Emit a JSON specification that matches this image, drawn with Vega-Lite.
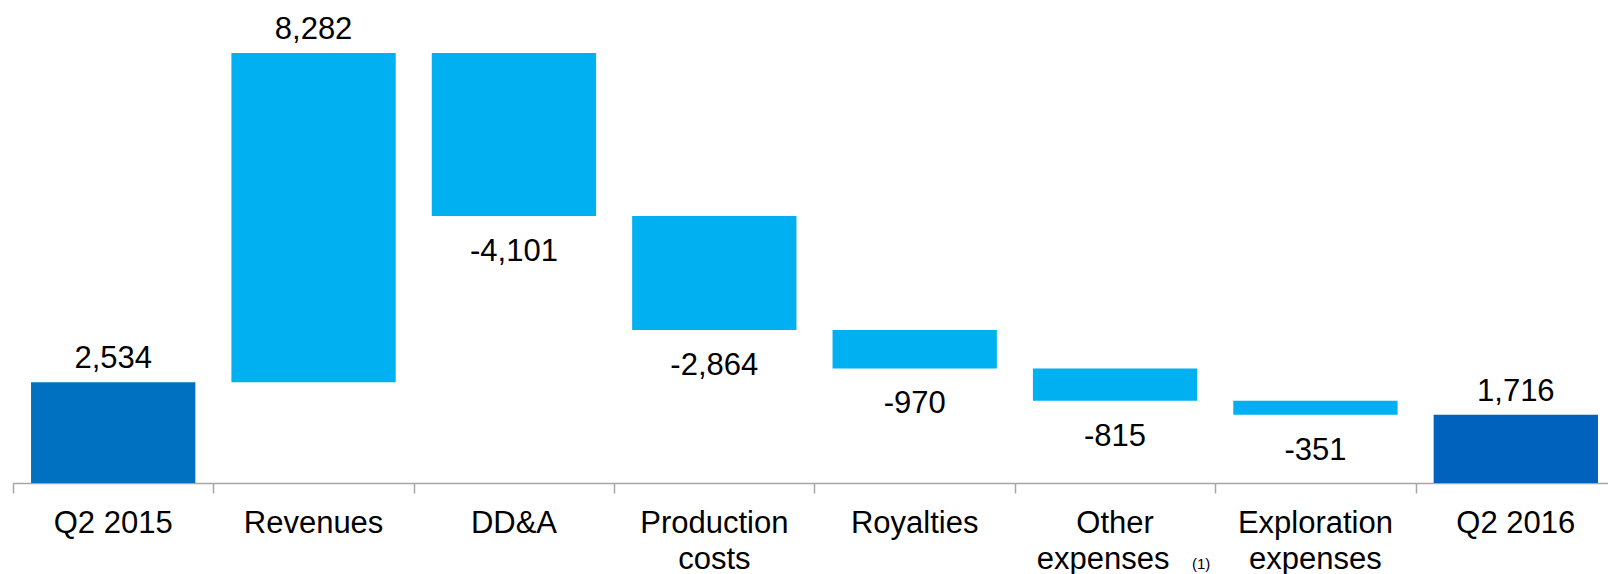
{
  "$schema": "https://vega.github.io/schema/vega-lite/v6.json",
  "autosize": {"type": "none"},
  "width": 1595,
  "height": 483,
  "padding": {"left": 13, "top": 0, "right": 0, "bottom": 91},
  "background": "white",
  "config": {"view": {"stroke": null}, "text": {"font": "Liberation Sans", "fontSize": 31, "color": "#000000"}},
  "data": {"values": [
    {"cat": "Q2 2015", "l1": "Q2 2015", "l2": "", "note": "", "start": 0, "end": 2534, "text": "2,534", "kind": "total"},
    {"cat": "Revenues", "l1": "Revenues", "l2": "", "note": "", "start": 2534, "end": 10816, "text": "8,282", "kind": "up"},
    {"cat": "DD&A", "l1": "DD&A", "l2": "", "note": "", "start": 10816, "end": 6715, "text": "-4,101", "kind": "down"},
    {"cat": "Production costs", "l1": "Production", "l2": "costs", "note": "", "start": 6715, "end": 3851, "text": "-2,864", "kind": "down"},
    {"cat": "Royalties", "l1": "Royalties", "l2": "", "note": "", "start": 3851, "end": 2881, "text": "-970", "kind": "down"},
    {"cat": "Other expenses", "l1": "Other", "l2": "expenses", "note": "(1)", "start": 2881, "end": 2066, "text": "-815", "kind": "down"},
    {"cat": "Exploration expenses", "l1": "Exploration", "l2": "expenses", "note": "", "start": 2066, "end": 1716, "text": "-351", "kind": "down"},
    {"cat": "Q2 2016", "l1": "Q2 2016", "l2": "", "note": "", "start": 0, "end": 1716, "text": "1,716", "kind": "total2"}
  ]},
  "encoding": {
    "x": {
      "field": "cat", "type": "nominal", "sort": null,
      "scale": {"range": [0, 1603], "paddingInner": 0.18, "paddingOuter": 0.09},
      "axis": {"labels": false, "title": null, "domainColor": "#A6A6A6", "domainWidth": 1.5, "tickColor": "#A6A6A6", "tickWidth": 1.5, "tickSize": 10, "tickOffset": -100.2}
    }
  },
  "layer": [
    {
      "mark": {"type": "bar"},
      "encoding": {
        "y": {"field": "start", "type": "quantitative", "scale": {"domain": [0, 12149], "nice": false, "zero": false}, "axis": null},
        "y2": {"field": "end"},
        "color": {"field": "kind", "type": "nominal", "legend": null,
          "scale": {"domain": ["total", "up", "down", "total2"], "range": ["#0070C0", "#00B0F0", "#00B0F0", "#0062BD"]}}
      }
    },
    {
      "transform": [{"filter": "datum.kind != 'down'"}],
      "mark": {"type": "text", "baseline": "alphabetic", "dy": -14},
      "encoding": {
        "y": {"field": "end", "type": "quantitative"},
        "text": {"field": "text"}
      }
    },
    {
      "transform": [{"filter": "datum.kind == 'down'"}],
      "mark": {"type": "text", "baseline": "alphabetic", "dy": 45},
      "encoding": {
        "y": {"field": "end", "type": "quantitative"},
        "text": {"field": "text"}
      }
    },
    {
      "mark": {"type": "text", "baseline": "alphabetic", "dy": 50},
      "encoding": {
        "y": {"datum": 0, "type": "quantitative"},
        "text": {"field": "l1"}
      }
    },
    {
      "transform": [{"filter": "datum.l2 != '' && datum.note == ''"}],
      "mark": {"type": "text", "baseline": "alphabetic", "dy": 86},
      "encoding": {
        "y": {"datum": 0, "type": "quantitative"},
        "text": {"field": "l2"}
      }
    },
    {
      "transform": [{"filter": "datum.note != ''"}],
      "mark": {"type": "text", "baseline": "alphabetic", "dy": 86, "dx": -12},
      "encoding": {
        "y": {"datum": 0, "type": "quantitative"},
        "text": {"field": "l2"}
      }
    },
    {
      "transform": [{"filter": "datum.note != ''"}],
      "mark": {"type": "text", "baseline": "alphabetic", "dy": 86, "dx": 86, "fontSize": 15},
      "encoding": {
        "y": {"datum": 0, "type": "quantitative"},
        "text": {"field": "note"}
      }
    }
  ]
}
